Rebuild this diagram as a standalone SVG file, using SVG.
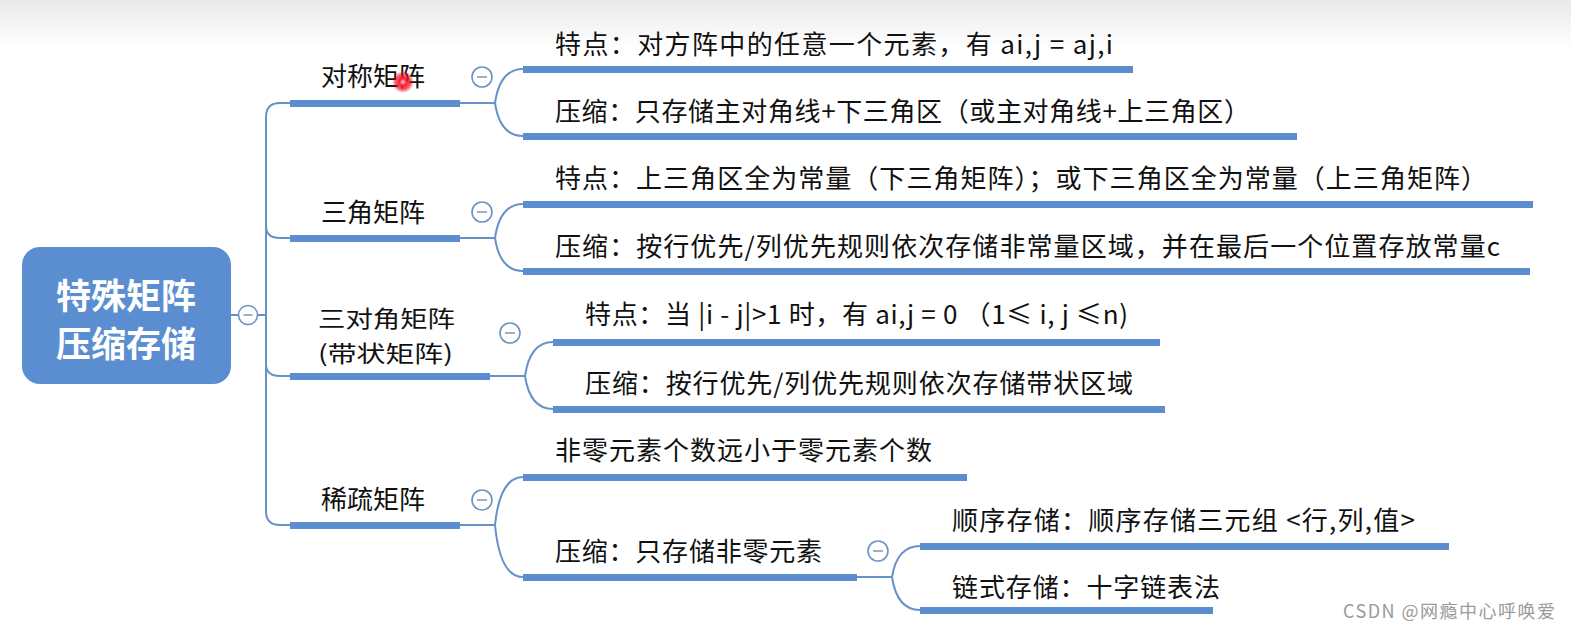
<svg xmlns="http://www.w3.org/2000/svg" width="1571" height="632" viewBox="0 0 1571 632">
<defs>
<linearGradient id="topfade" x1="0" y1="0" x2="0" y2="1">
<stop offset="0" stop-color="#e9e9e9"/>
<stop offset="1" stop-color="#ffffff"/>
</linearGradient>
<radialGradient id="laser">
<stop offset="0" stop-color="#ffe0e0"/>
<stop offset="0.3" stop-color="#ff2030"/>
<stop offset="0.7" stop-color="#e8001c" stop-opacity="0.6"/>
<stop offset="1" stop-color="#ff0000" stop-opacity="0"/>
</radialGradient>
</defs>
<style>
.bar{fill:#5b8dd0;}
.thin{fill:none;stroke:#6792c9;stroke-width:2;}
.tog circle{fill:#fff;stroke:#6f92c4;stroke-width:1.6;}
.tog line{stroke:#8c9ab5;stroke-width:1.6;}
.t{font-family:"Noto Sans CJK SC","Noto Sans",sans-serif;font-size:26px;fill:#111;}
.t2{font-family:"Noto Sans CJK SC","Noto Sans",sans-serif;font-size:23px;fill:#111;}
.root{font-family:"Noto Sans CJK SC","Noto Sans",sans-serif;font-size:35px;font-weight:bold;fill:#fff;}
.wm{font-family:"Noto Sans CJK SC","Noto Sans",sans-serif;font-size:18px;fill:#9a9a9a;}
</style>
<rect x="0" y="0" width="1571" height="632" fill="#fff"/>
<rect x="0" y="0" width="1571" height="48" fill="url(#topfade)"/>

<g id="connectors">
<path class="thin" d="M231,315 H266"/>
<path class="thin" d="M290,103 H280 Q266,103 266,117 V511 Q266,525 280,525 H290"/>
<path class="thin" d="M266,226 Q266,238 280,238 H290"/>
<path class="thin" d="M266,364 Q266,376 280,376 H290"/>
<path class="thin" d="M460,103 H495 M495,103 Q500,69 523,69 M495,103 Q500,136 523,136"/>
<path class="thin" d="M460,238 H495 M495,238 Q500,204 523,204 M495,238 Q500,271 523,271"/>
<path class="thin" d="M490,376 H525 M525,376 Q530,342 553,342 M525,376 Q530,409 553,409"/>
<path class="thin" d="M460,525 H495 M495,525 Q500,477 523,477 M495,525 Q500,577 523,577"/>
<path class="thin" d="M857,577 H892 M892,577 Q897,546 920,546 M892,577 Q897,610 920,610"/>
</g>

<g id="root">
<rect x="22" y="247" width="209" height="137" rx="18" fill="#5b8ed1"/>
<text class="root" x="126" y="309" text-anchor="middle">特殊矩阵</text>
<text class="root" x="126" y="357" text-anchor="middle">压缩存储</text>
<g class="tog"><circle cx="248" cy="315" r="9.5"/><line x1="243.5" y1="315" x2="252.5" y2="315"/></g>
</g>

<g id="n-symmetric">
<rect class="bar" x="290" y="100" width="170" height="7"/>
<text class="t" x="321" y="86" textLength="104">对称矩阵</text>
<g class="tog"><circle cx="482" cy="77" r="10"/><line x1="477" y1="77" x2="487" y2="77"/></g>
</g>
<g id="n-symmetric-feature">
<rect class="bar" x="523" y="66" width="610" height="7"/>
<text class="t" x="555" y="54" textLength="558">特点：对方阵中的任意一个元素，有 ai,j = aj,i</text>
</g>
<g id="n-symmetric-compress">
<rect class="bar" x="523" y="133" width="774" height="7"/>
<text class="t" x="555" y="121" textLength="695">压缩：只存储主对角线+下三角区（或主对角线+上三角区）</text>
</g>

<g id="n-triangular">
<rect class="bar" x="290" y="235" width="170" height="7"/>
<text class="t" x="321" y="222" textLength="104">三角矩阵</text>
<g class="tog"><circle cx="482" cy="212" r="10"/><line x1="477" y1="212" x2="487" y2="212"/></g>
</g>
<g id="n-triangular-feature">
<rect class="bar" x="523" y="201" width="1010" height="7"/>
<text class="t" x="555" y="188" textLength="932">特点：上三角区全为常量（下三角矩阵）；或下三角区全为常量（上三角矩阵）</text>
</g>
<g id="n-triangular-compress">
<rect class="bar" x="523" y="268" width="1007" height="7"/>
<text class="t" x="555" y="256" textLength="945">压缩：按行优先/列优先规则依次存储非常量区域，并在最后一个位置存放常量c</text>
</g>

<g id="n-tridiagonal">
<rect class="bar" x="290" y="373" width="200" height="7"/>
<text class="t2" x="318" y="327" textLength="137" lengthAdjust="spacingAndGlyphs">三对角矩阵</text>
<text class="t2" x="318" y="362" textLength="135" lengthAdjust="spacingAndGlyphs">(带状矩阵)</text>
<g class="tog"><circle cx="510" cy="333" r="10"/><line x1="505" y1="333" x2="515" y2="333"/></g>
</g>
<g id="n-tridiagonal-feature">
<rect class="bar" x="553" y="339" width="607" height="7"/>
<text class="t" x="585" y="324" textLength="543">特点：当 |i - j|&gt;1 时，有 ai,j = 0 （1≤ i, j ≤n)</text>
</g>
<g id="n-tridiagonal-compress">
<rect class="bar" x="553" y="406" width="612" height="7"/>
<text class="t" x="585" y="393" textLength="548">压缩：按行优先/列优先规则依次存储带状区域</text>
</g>

<g id="n-sparse">
<rect class="bar" x="290" y="522" width="170" height="7"/>
<text class="t" x="321" y="509" textLength="104">稀疏矩阵</text>
<g class="tog"><circle cx="482" cy="500" r="10"/><line x1="477" y1="500" x2="487" y2="500"/></g>
</g>
<g id="n-sparse-feature">
<rect class="bar" x="523" y="474" width="444" height="7"/>
<text class="t" x="555" y="460" textLength="377">非零元素个数远小于零元素个数</text>
</g>
<g id="n-sparse-compress">
<rect class="bar" x="523" y="574" width="334" height="7"/>
<text class="t" x="555" y="561" textLength="267">压缩：只存储非零元素</text>
<g class="tog"><circle cx="878" cy="551" r="10"/><line x1="873" y1="551" x2="883" y2="551"/></g>
</g>
<g id="n-sparse-seq">
<rect class="bar" x="920" y="543" width="529" height="7"/>
<text class="t" x="952" y="530" textLength="463">顺序存储：顺序存储三元组 &lt;行,列,值&gt;</text>
</g>
<g id="n-sparse-link">
<rect class="bar" x="920" y="607" width="293" height="7"/>
<text class="t" x="952" y="597" textLength="268">链式存储：十字链表法</text>
</g>

<circle cx="403" cy="82" r="11" fill="url(#laser)"/>
<text class="wm" x="1343" y="618" textLength="212">CSDN @网瘾中心呼唤爱</text>
</svg>
